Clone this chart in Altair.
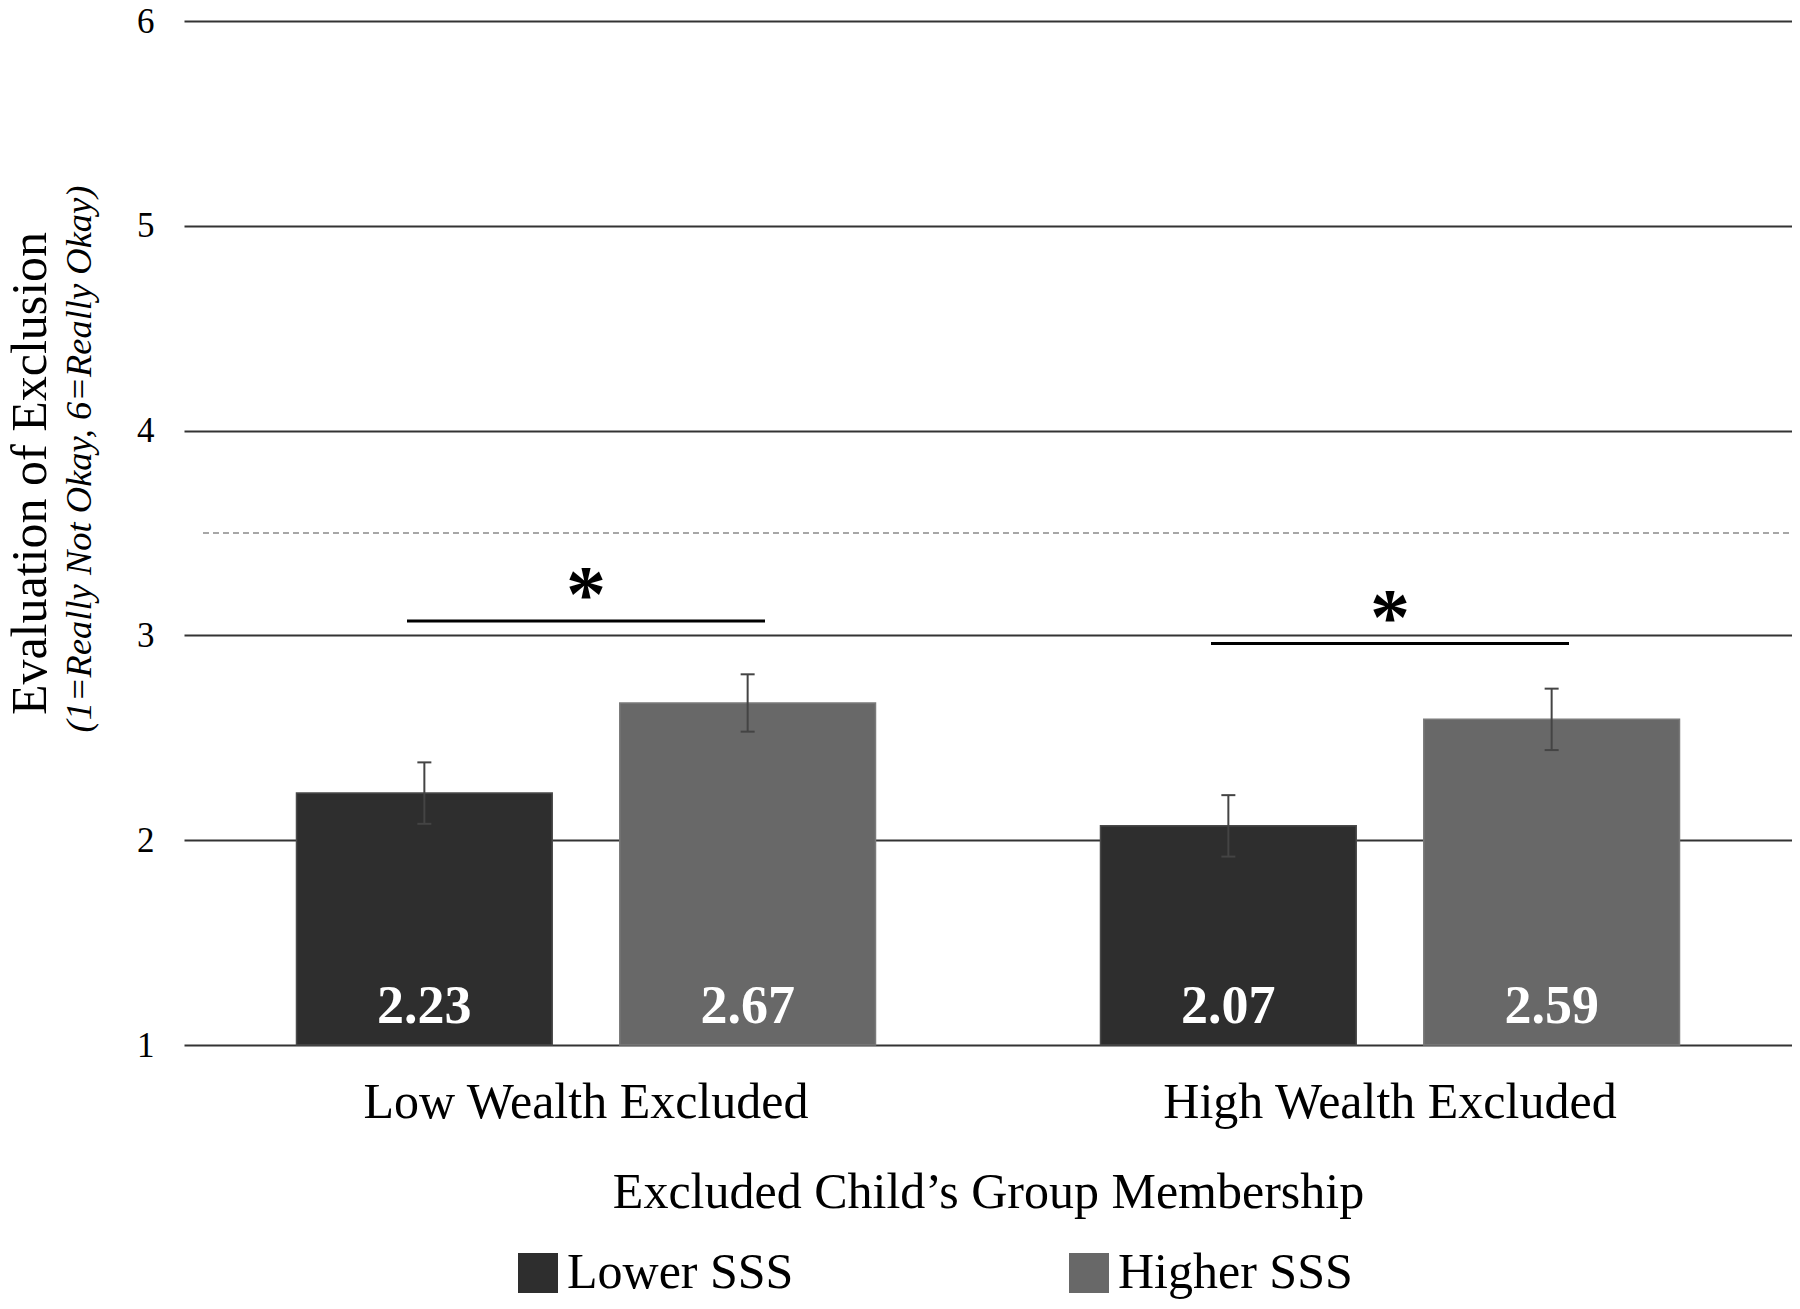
import altair as alt
import pandas as pd

groups = ["Low Wealth Excluded", "High Wealth Excluded"]
sss = ["Lower SSS", "Higher SSS"]
bar_group = ["Low Wealth Excluded", "Low Wealth Excluded", "High Wealth Excluded", "High Wealth Excluded"]
bar_sss = ["Lower SSS", "Higher SSS", "Lower SSS", "Higher SSS"]
means = [2.23, 2.67, 2.07, 2.59]
se = [0.15, 0.14, 0.15, 0.15]
sig_y = [3.07, 2.96]
sig_text = ["*", "*"]
midpoint = [3.5]
y_ticks = [1, 2, 3, 4, 5, 6]

FONT = "Liberation Serif"
W, H = 1608, 1024

bars_df = pd.DataFrame({
    "group": bar_group,
    "SSS": bar_sss,
    "mean": means,
    "lo": [m - s for m, s in zip(means, se)],
    "hi": [m + s for m, s in zip(means, se)],
    "label": [f"{m:.2f}" for m in means],
})
sig_df = pd.DataFrame({"group": groups, "y": sig_y, "star": sig_text})
mid_df = pd.DataFrame({"y": midpoint})

x_enc = alt.X(
    "group:N",
    sort=groups,
    scale=alt.Scale(domain=groups, paddingInner=0, paddingOuter=0),
    axis=alt.Axis(
        title="Excluded Child\u2019s Group Membership",
        labelAngle=0,
        labelFont=FONT,
        labelFontSize=50,
        labelColor="black",
        labelPadding=32,
        labelLimit=0,
        titleFont=FONT,
        titleFontSize=50,
        titleFontWeight="normal",
        titleColor="black",
        titlePadding=40,
        domain=False,
        ticks=False,
        grid=False,
    ),
)
xoff = alt.XOffset(
    "SSS:N", sort=sss, scale=alt.Scale(domain=sss, paddingInner=0.209, paddingOuter=0.348)
)
y_scale = alt.Scale(domain=[1, 6], nice=False, zero=False)
y_axis = alt.Axis(
    values=y_ticks,
    format="d",
    title="Evaluation of Exclusion",
    titleFont=FONT,
    titleFontSize=50,
    titleFontWeight="normal",
    titleColor="black",
    titleAngle=270,
    titleX=-139,
    titleY=452,
    titleAlign="center",
    titleBaseline="alphabetic",
    labelFont=FONT,
    labelFontSize=35,
    labelColor="black",
    labelPadding=30,
    domain=False,
    ticks=False,
    grid=True,
    gridColor="#333333",
    gridWidth=2,
)

base = alt.Chart(bars_df)

bars = base.mark_bar(strokeWidth=1.5).encode(
    x=x_enc,
    xOffset=xoff,
    y=alt.Y("mean:Q", scale=y_scale, axis=y_axis),
    y2=alt.datum(1),
    color=alt.Color(
        "SSS:N",
        sort=sss,
        scale=alt.Scale(domain=sss, range=["#2e2e2e", "#686868"]),
        legend=alt.Legend(
            title=None,
            orient="none",
            legendX=329,
            legendY=1227,
            direction="horizontal",
            symbolType="square",
            symbolSize=1600,
            symbolStrokeWidth=0,
            labelFont=FONT,
            labelFontSize=50,
            labelColor="black",
            labelOffset=4,
            labelLimit=0,
            columnPadding=270,
            padding=0,
        ),
    ),
    stroke=alt.Stroke("SSS:N", sort=sss, scale=alt.Scale(domain=sss, range=["#4a4a4a", "#7a7a7a"]), legend=None),
)

err = base.mark_rule(color="#444444", strokeWidth=2).encode(
    x=alt.X("group:N", sort=groups), xOffset=xoff, y="lo:Q", y2="hi:Q"
)
cap_lo = base.mark_tick(color="#444444", size=14, thickness=2, orient="horizontal", opacity=1).encode(
    x=alt.X("group:N", sort=groups), xOffset=xoff, y="lo:Q"
)
cap_hi = base.mark_tick(color="#444444", size=14, thickness=2, orient="horizontal", opacity=1).encode(
    x=alt.X("group:N", sort=groups), xOffset=xoff, y="hi:Q"
)

values = base.mark_text(
    font=FONT, fontSize=54, fontWeight="bold", color="white", baseline="alphabetic", dy=-22
).encode(x=alt.X("group:N", sort=groups), xOffset=xoff, y=alt.datum(1), text="label:N")

mid = alt.Chart(mid_df).mark_rule(color="#8a8a8a", strokeWidth=1.5, strokeDash=[6, 4]).encode(
    y="y:Q", x=alt.value(19), x2=alt.value(W)
)

sig_line = alt.Chart(sig_df).mark_tick(color="black", size=358, thickness=3, orient="horizontal", opacity=1).encode(
    x=alt.X("group:N", sort=groups), y="y:Q"
)
sig_star = alt.Chart(sig_df).mark_text(
    font=FONT, fontSize=80, fontWeight="bold", color="black", baseline="alphabetic", dy=0
).encode(x=alt.X("group:N", sort=groups), y="y:Q", text="star:N")

subtitle = alt.Chart(pd.DataFrame({"t": ["(1=Really Not Okay,  6=Really Okay)"]})).mark_text(
    font=FONT, fontSize=36.5, fontStyle="italic", color="black", angle=270, align="center", baseline="middle"
).encode(x=alt.value(-104), y=alt.value(438), text="t:N")

chart = alt.layer(mid, bars, err, cap_lo, cap_hi, values, sig_line, sig_star, subtitle).properties(
    width=W,
    height=H,
    padding={"left": 176, "top": 13, "right": 0, "bottom": 256},
    autosize=alt.AutoSizeParams(type="none"),
).configure_view(stroke=None)

chart.save("out.html", embed_options={"renderer": "svg", "actions": False})
